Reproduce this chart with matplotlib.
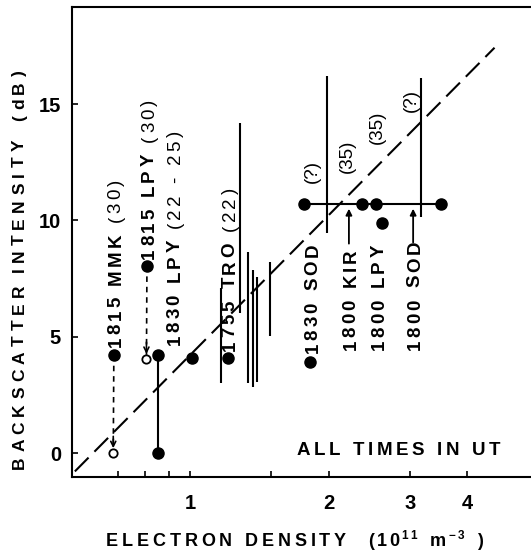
import matplotlib
matplotlib.use('Agg')
import matplotlib.pyplot as plt
from matplotlib.transforms import IdentityTransform
from matplotlib.ticker import FixedLocator, FixedFormatter, NullLocator

FAM = ['Liberation Sans', 'DejaVu Sans']
plt.rcParams['font.family'] = FAM
plt.rcParams['font.weight'] = 'bold'
plt.rcParams['lines.scale_dashes'] = False

# ---------------- data ----------------
fit_x = [0.563, 4.58]
fit_y = [-0.79, 17.42]

dot_x = [0.684, 0.807, 0.853, 0.853, 1.01, 1.21, 1.82, 1.767, 2.365, 2.528, 3.50, 2.614]
dot_y = [4.2, 8.04, 4.2, 0.0, 4.1, 4.1, 3.92, 10.69, 10.69, 10.69, 10.69, 9.87]

open_x = [0.682, 0.805]
open_y = [0.0, 4.05]

darrow_x0 = [0.684, 0.807]
darrow_y0 = [4.2, 8.04]
darrow_x1 = [0.682, 0.805]
darrow_y1 = [0.0, 4.05]

vr_x = [0.853, 1.171, 1.284, 1.338, 1.368, 1.400, 1.491, 1.98, 3.18]
vr_lo = [0.0, 3.0, 6.0, 3.0, 2.82, 3.06, 5.03, 9.44, 10.16]
vr_hi = [4.2, 7.08, 14.2, 8.62, 7.86, 7.58, 8.22, 16.2, 16.1]

hl_x = [1.767, 3.50]
hl_y = 10.69

uparrow_x = [2.213, 3.05]
uparrow_y0 = [9.0, 9.05]
uparrow_y1 = [10.5, 10.5]

xticks = [0.7, 0.8, 0.9, 1, 1.5, 2, 3, 4]
xticklabels = ['', '', '', '1', '', '2', '3', '4']
yticks = [0, 5, 10, 15]

label_main = ['1815 MMK', '1815 LPY', '1830 LPY', '1755 TRO', '1830 SOD', '1800 KIR', '1800 LPY', '1800 SOD']
label_paren = ['(30)', '(30)', '(22 - 25)', '(22)', '', '', '', '']
side_paren = ['(?)', '(35)', '(35)', '(?)']

# ---------------- layout ----------------
label_x = [0.684, 0.809, 0.919, 1.209, 1.83, 2.213, 2.548, 3.05]
label_y0 = [4.55, 8.35, 4.64, 4.4, 4.3, 4.43, 4.43, 4.43]
side_x = [1.84, 2.20, 2.548, 3.02]
side_y = [12.08, 12.76, 14.0, 15.17]

W, H = 531, 550
PX = 100 / 72.0
fig = plt.figure(figsize=(W / 100, H / 100), dpi=100)
renderer = fig.canvas.get_renderer()
ax = fig.add_axes([72 / W, 73 / H, 476.6 / W, 470 / H])
ax.set_xscale('log')
ax.set_xlim(0.555, 6.0)
ax.set_ylim(-1.03, 19.17)

for sp in ax.spines.values():
    sp.set_linewidth(1.5)

ax.xaxis.set_major_locator(FixedLocator(xticks))
ax.xaxis.set_major_formatter(FixedFormatter(xticklabels))
ax.xaxis.set_minor_locator(NullLocator())
ax.set_yticks(yticks)
ax.tick_params(direction='in', length=4.5, width=1.2, labelsize=14.5, top=False, right=False)
ax.tick_params(axis='x', pad=12)
ax.tick_params(axis='y', pad=8)

# fit line
ax.plot(fit_x, fit_y, color='k', lw=1.5, dashes=(14, 6), zorder=2)
# vertical ranges and horizontal line
ax.vlines(vr_x, vr_lo, vr_hi, color='k', lw=1.5, zorder=3)
ax.hlines(hl_y, hl_x[0], hl_x[1], color='k', lw=1.5, zorder=3)
# dashed connectors
for x0, y0, x1, y1 in zip(darrow_x0, darrow_y0, darrow_x1, darrow_y1):
    ax.plot([x0, x1], [y0, y1], color='k', lw=1.2, dashes=(4, 3.5), zorder=3)
    ax.annotate('', xy=(x1, y1), xytext=(0, 12), textcoords='offset points',
                arrowprops=dict(arrowstyle='->', lw=1.2, color='k', shrinkA=0, shrinkB=3.5,
                                mutation_scale=9), zorder=4)
# up arrows
for x, y0, y1 in zip(uparrow_x, uparrow_y0, uparrow_y1):
    ax.annotate('', xy=(x, y1), xytext=(x, y0),
                arrowprops=dict(arrowstyle='-|>', lw=1.3, color='k', shrinkA=0, shrinkB=0,
                                mutation_scale=9), zorder=4)
# markers
ax.plot(dot_x, dot_y, 'o', ms=8, color='k', zorder=5, clip_on=False)
ax.plot(open_x, open_y, 'o', ms=6, mfc='white', mec='k', mew=1.3, zorder=6)


# ---------- letter-spaced text helper ----------
_wcache = {}


def ink_w(ch, size, weight):
    key = (ch, size, weight)
    if key not in _wcache:
        t = fig.text(0, 0, ch, fontsize=size, fontweight=weight, family=FAM)
        _wcache[key] = t.get_window_extent(renderer).width
        t.remove()
    return _wcache[key]


def measure(items):
    ink = 0.0
    nvis = 0
    nsp = 0
    for s, size, weight, rise in items:
        for ch in s:
            if ch == ' ':
                nsp += 1
            else:
                ink += ink_w(ch, size, weight)
                nvis += 1
    return ink, nvis, nsp


def fit_gap(items, length, space):
    ink, nvis, nsp = measure(items)
    return (length - ink - space * nsp) / max(nvis - 1, 1)


def spaced(x, y, items, gap, space, vertical=False):
    """x, y: display pixels of baseline start (for vertical: column centre)."""
    pos = 0.0
    for s, size, weight, rise in items:
        cap = 0.72 * size * PX
        for ch in s:
            if ch == ' ':
                pos += space
                continue
            w = ink_w(ch, size, weight)
            if vertical:
                fig.text(x + cap / 2 - rise, y + pos, ch, transform=IdentityTransform(),
                         rotation=90, rotation_mode='anchor', ha='left', va='baseline',
                         fontsize=size, fontweight=weight, family=FAM, zorder=7)
            else:
                fig.text(x + pos, y + rise, ch, transform=IdentityTransform(),
                         ha='left', va='baseline', fontsize=size, fontweight=weight,
                         family=FAM, zorder=7)
            pos += w + gap
    return pos


LS = 13.5
GAP = 3.0
SPACE = 9.0
for main, paren, lx, ly in zip(label_main, label_paren, label_x, label_y0):
    dx, dy = ax.transData.transform((lx, ly))
    items = [(main, LS, 'bold', 0)]
    if paren:
        items.append((' ' + paren, LS, 'normal', 0))
    spaced(dx, dy, items, GAP, SPACE, vertical=True)

for s, sx, sy in zip(side_paren, side_x, side_y):
    ax.text(sx, sy, s, rotation=90, ha='center', va='center', fontsize=LS,
            fontweight='normal', zorder=7)

# ALL TIMES IN UT
items = [('ALL TIMES IN UT', 13.5, 'bold', 0)]
g = fit_gap(items, 203, 9.0)
spaced(297, H - 455, items, g, 9.0)

# y label
items = [('BACKSCATTER INTENSITY  (dB)', 12.5, 'bold', 0)]
g = fit_gap(items, 399, 7.0)
spaced(18, H - 469, items, g, 7.0, vertical=True)

# x label
items = [('ELECTRON DENSITY', 13, 'bold', 0)]
g = fit_gap(items, 240, 9.0)
spaced(106, H - 546, items, g, 9.0)
items2 = [('(10', 13, 'bold', 0), ('11', 8.5, 'bold', 7), (' m', 13, 'bold', 0),
          ('\u22123', 8.5, 'bold', 7), (' )', 13, 'bold', 0)]
spaced(368, H - 546, items2, 2.5, 10.0)

fig.savefig('out.png', dpi=100)
